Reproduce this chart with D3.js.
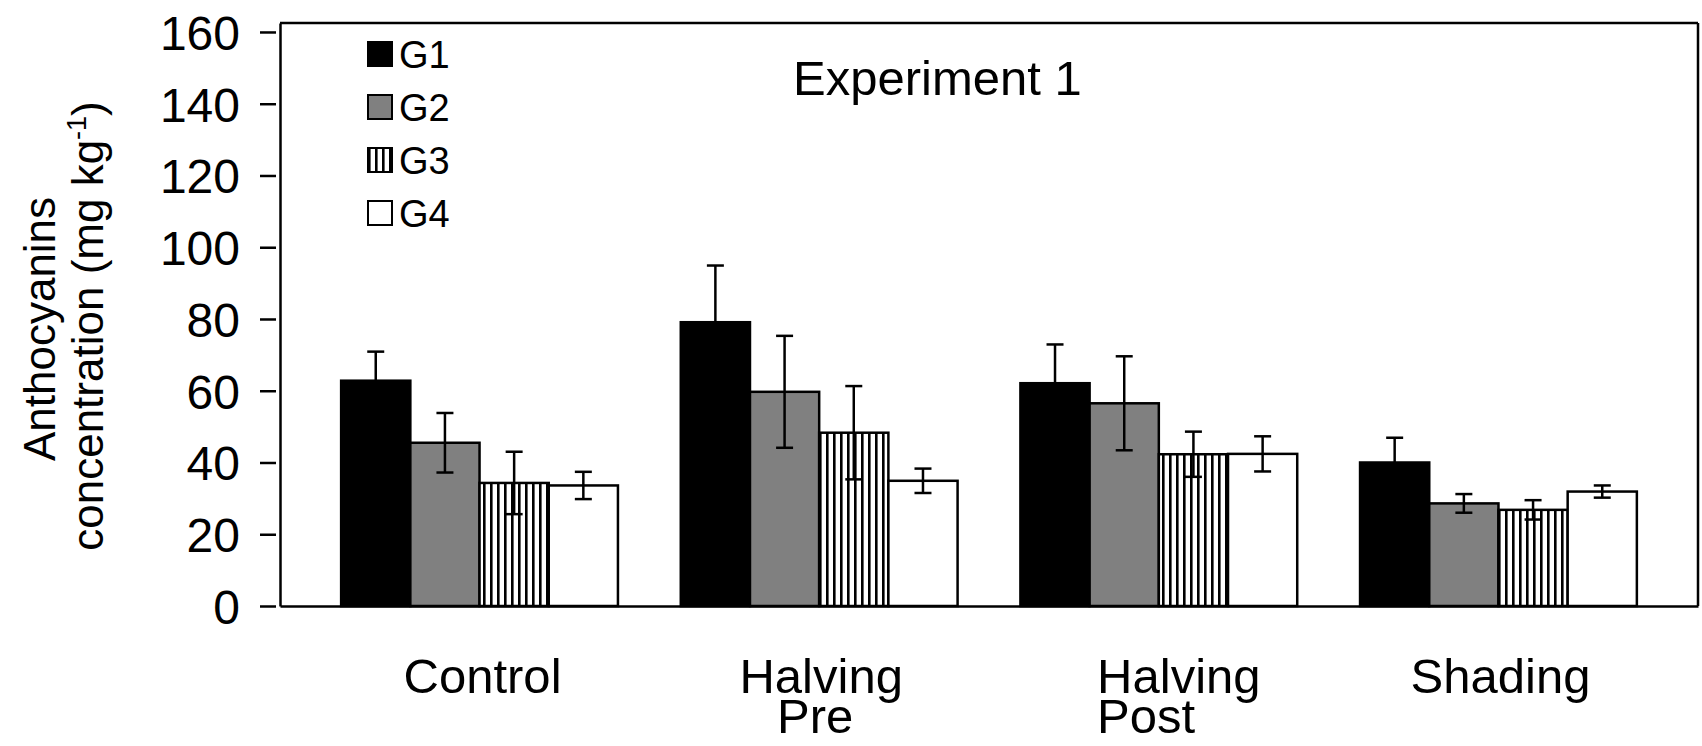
<!DOCTYPE html>
<html>
<head>
<meta charset="utf-8">
<script src="https://cdn.jsdelivr.net/npm/d3@7"></script>
<style>
  body { margin: 0; background: #fff; }
  svg { display: block; }
  text { font-family: "Liberation Sans", Arial, Helvetica, sans-serif; fill: #000; }
</style>
</head>
<body>
<svg id="chart" width="1702" height="746"></svg>
<script>
// Treatments on the x axis (label lines) and genotype groups
const treatments = ["Control", "Halving Pre", "Halving Post", "Shading"];
const treatmentLines = [["Control"], ["Halving", "Pre"], ["Halving", "Post"], ["Shading"]];
const groups = ["G1", "G2", "G3", "G4"];

// Mean anthocyanin concentration (mg kg-1) per treatment
const g1Mean = [62.8, 79.1, 62.1, 40.0];
const g2Mean = [45.5, 59.7, 56.5, 28.6];
const g3Mean = [34.3, 48.3, 42.3, 26.8];
const g4Mean = [33.6, 34.9, 42.4, 31.9];

// Error (± half range) per treatment
const g1Err = [8.1, 15.8, 10.8, 6.9];
const g2Err = [8.3, 15.6, 13.1, 2.6];
const g3Err = [8.7, 13.0, 6.3, 2.7];
const g4Err = [3.8, 3.4, 4.9, 1.7];

const yTicks = [0, 20, 40, 60, 80, 100, 120, 140, 160];
const chartTitle = "Experiment 1";

// ---- layout ----
const plot = { left: 280, right: 1698, top: 23, bottom: 606 };
const labelShift = [3, 2, 20, 2];               // horizontal nudge of each category label
const secondLineAnchor = ["middle", "middle", "start", "middle"];

const means = [g1Mean, g2Mean, g3Mean, g4Mean];
const errs = [g1Err, g2Err, g3Err, g4Err];
const rows = [];
treatments.forEach((t, i) => {
  groups.forEach((g, j) => {
    rows.push({ treatment: t, group: g, mean: means[j][i], err: errs[j][i] });
  });
});

const svg = d3.select("#chart");

const x0 = d3.scaleBand().domain(treatments)
  .range([plot.left, plot.right]).paddingInner(0.185).paddingOuter(0.18);
const x1 = d3.scaleBand().domain(groups).range([0, x0.bandwidth()]).padding(0);
const y = d3.scaleLinear().domain([0, 162.5]).range([plot.bottom, plot.top]);

// vertical stripe fill for G3
const defs = svg.append("defs");
const pat = defs.append("pattern").attr("id", "stripes")
  .attr("patternUnits", "userSpaceOnUse").attr("width", 7).attr("height", 10);
pat.append("rect").attr("width", 7).attr("height", 10).attr("fill", "#fff");
pat.append("rect").attr("x", 0).attr("width", 2.6).attr("height", 10).attr("fill", "#000");

const fills = d3.scaleOrdinal().domain(groups)
  .range(["#000000", "#808080", "url(#stripes)", "#ffffff"]);

// frame (top and right)
svg.append("line").attr("x1", plot.left).attr("x2", plot.right)
  .attr("y1", plot.top).attr("y2", plot.top)
  .attr("stroke", "#000").attr("stroke-width", 2.5);
svg.append("line").attr("x1", plot.right).attr("x2", plot.right)
  .attr("y1", plot.top).attr("y2", plot.bottom)
  .attr("stroke", "#000").attr("stroke-width", 2.5);

// bars
svg.append("g").selectAll("rect").data(rows).join("rect")
  .attr("x", d => x0(d.treatment) + x1(d.group))
  .attr("y", d => y(d.mean))
  .attr("width", x1.bandwidth())
  .attr("height", d => y(0) - y(d.mean))
  .attr("fill", d => fills(d.group))
  .attr("stroke", "#000").attr("stroke-width", 2.5);

// error bars
const capW = 17;
const eb = svg.append("g").attr("stroke", "#000").attr("stroke-width", 2.5)
  .selectAll("g").data(rows).join("g")
  .attr("transform", d => `translate(${x0(d.treatment) + x1(d.group) + x1.bandwidth() / 2},0)`);
eb.append("line").attr("y1", d => y(d.mean - d.err)).attr("y2", d => y(d.mean + d.err));
eb.append("line").attr("x1", -capW / 2).attr("x2", capW / 2)
  .attr("y1", d => y(d.mean + d.err)).attr("y2", d => y(d.mean + d.err));
eb.append("line").attr("x1", -capW / 2).attr("x2", capW / 2)
  .attr("y1", d => y(d.mean - d.err)).attr("y2", d => y(d.mean - d.err));

// y axis
const yAxis = svg.append("g").attr("transform", `translate(${plot.left},0)`)
  .call(d3.axisLeft(y).tickValues(yTicks).tickSizeInner(20).tickSizeOuter(0).tickPadding(20));
yAxis.select(".domain").attr("stroke-width", 2.5);
yAxis.selectAll(".tick line").attr("x1", -4).attr("stroke-width", 2.5);
yAxis.selectAll(".tick text").style("font-size", "48px")
  .style("font-family", '"Liberation Sans", Arial, sans-serif').attr("dy", "0.36em");

// x axis
const xAxis = svg.append("g").attr("transform", `translate(0,${plot.bottom})`)
  .call(d3.axisBottom(x0).tickSize(0).tickFormat(""));
xAxis.select(".domain").attr("stroke-width", 2.5);
xAxis.selectAll(".tick").each(function (d, i) {
  const tick = d3.select(this);
  tick.selectAll("text").remove();
  const lines = treatmentLines[i];
  const first = tick.append("text").attr("x", labelShift[i]).attr("y", 87)
    .attr("text-anchor", "middle").style("font-size", "49px").text(lines[0]);
  if (lines.length > 1) {
    const w = first.node().getComputedTextLength();
    const anchor = secondLineAnchor[i];
    tick.append("text")
      .attr("x", anchor === "start" ? labelShift[i] - w / 2 : labelShift[i] - 6)
      .attr("y", 127).attr("text-anchor", anchor)
      .style("font-size", "49px").text(lines[1]);
  }
});

// y axis title
svg.append("text").attr("transform", "translate(55,329) rotate(-90)")
  .attr("text-anchor", "middle").style("font-size", "44px").text("Anthocyanins");
const yt = svg.append("text").attr("transform", "translate(103,326) rotate(-90)")
  .attr("text-anchor", "middle").style("font-size", "44px");
yt.append("tspan").text("concentration (mg kg");
yt.append("tspan").attr("dy", -17).style("font-size", "27px").text("-1");
yt.append("tspan").attr("dy", 17).text(")");

// chart title
svg.append("text").attr("x", 793).attr("y", 95).style("font-size", "49px").text(chartTitle);

// legend
const leg = svg.append("g").selectAll("g").data(groups).join("g")
  .attr("transform", (d, i) => `translate(368,${54 + i * 53})`);
leg.append("rect").attr("x", 0).attr("y", -12).attr("width", 24).attr("height", 24)
  .attr("fill", d => fills(d)).attr("stroke", "#000").attr("stroke-width", 2);
leg.append("text").attr("x", 31).attr("y", 14).style("font-size", "38px").text(d => d);
</script>
</body>
</html>
